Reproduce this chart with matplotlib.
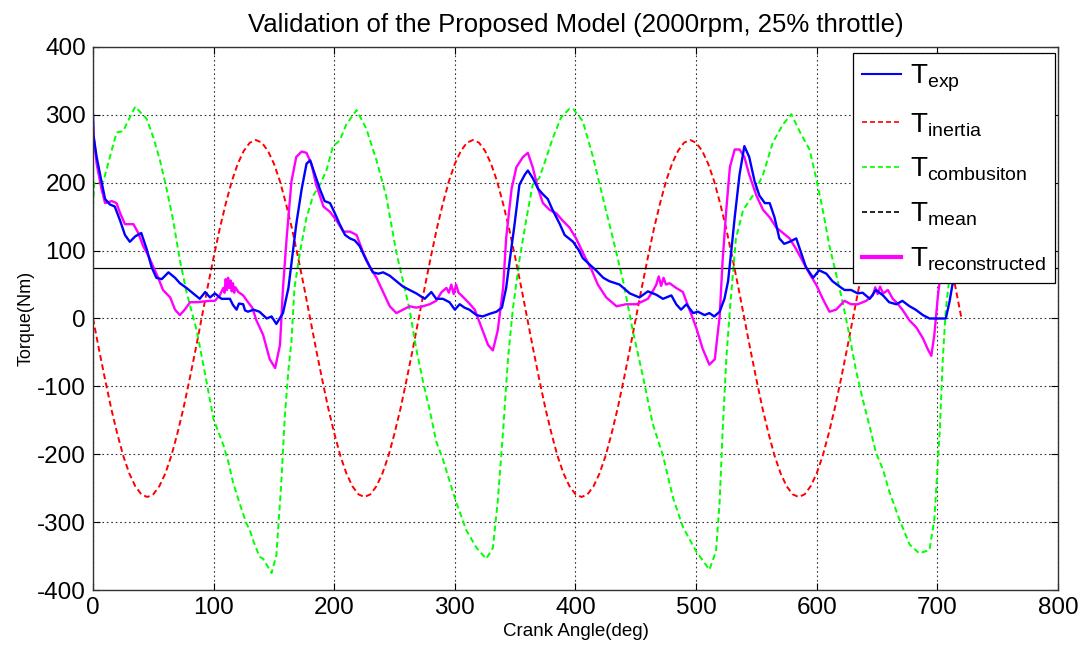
import numpy as np
import matplotlib
matplotlib.use("Agg")
import matplotlib.pyplot as plt
from matplotlib.lines import Line2D
from matplotlib.legend_handler import HandlerTuple

plt.rcParams['font.family'] = ['Liberation Sans', 'DejaVu Sans']
plt.rcParams['mathtext.fontset'] = 'custom'
plt.rcParams['mathtext.rm'] = 'Liberation Sans'
plt.rcParams['axes.unicode_minus'] = False

# inertia torque, read every 5 deg
inertia_deg = np.arange(0, 725, 5)
inertia_val = [
    0, -46, -90, -132, -169, -202, -228, -247, -259, -263, -259, -247, -228, -202, -169, -132, -90, -46,
    0, 46, 90, 132, 169, 202, 228, 247, 259, 263, 259, 247, 228, 202, 169, 132, 90, 46,
    0, -46, -90, -132, -169, -202, -228, -247, -259, -263, -259, -247, -228, -202, -169, -132, -90, -46,
    0, 46, 90, 132, 169, 202, 228, 247, 259, 263, 259, 247, 228, 202, 169, 132, 90, 46,
    0, -46, -90, -132, -169, -202, -228, -247, -259, -263, -259, -247, -228, -202, -169, -132, -90, -46,
    0, 46, 90, 132, 169, 202, 228, 247, 259, 263, 259, 247, 228, 202, 169, 132, 90, 46,
    0, -46, -90, -132, -169, -202, -228, -247, -259, -263, -259, -247, -228, -202, -169, -132, -90, -46,
    0, 46, 90, 132, 169, 202, 228, 247, 259, 263, 259, 247, 228, 202, 169, 132, 90, 46,
    0,
]

comb_deg = [0, 1, 3, 8.6, 14, 19.5, 25, 29, 35, 44.5, 50, 55.5, 61, 66.5, 72, 77.5, 86, 94, 100, 108,
            112, 116, 122, 127, 130, 133, 138, 141, 148, 152, 156, 159, 162, 164.5, 167, 171.5, 177,
            182.5, 188, 193.5, 199, 204.5, 210, 218.5, 226.5, 235, 243, 251.5, 257, 262.5, 268, 273.5,
            279, 284.5, 290, 295.5, 301, 309.5, 318, 326, 331.5, 335.5, 340, 344, 348, 353.5, 359,
            364.5, 370, 376, 381, 388, 395, 398, 406, 414.5, 423, 431, 439.5, 447.5, 456, 464, 472.5,
            481, 489, 500, 511, 516.5, 519.5, 522, 525, 528, 533, 539, 547, 555.5, 563.5, 572, 579,
            586, 594, 599.5, 605, 610.5, 616, 621.5, 627, 632.5, 638, 644, 649, 655, 660, 668.5, 677,
            685, 693.5, 697.5, 702, 704.5, 707, 710, 715, 720]
comb_val = [165, 200, 199, 202, 238, 274, 276, 291, 312, 294, 267, 233, 191, 144, 86, 39, -18, -92, -149,
            -186, -210, -241, -275, -301, -312, -328, -351, -354, -375, -349, -244, -144, -76, -34, 45,
            97, 149, 181, 197, 218, 254, 262, 286, 307, 280, 233, 181, 97, 55, 13, -45, -92, -134, -181,
            -207, -239, -270, -312, -338, -354, -338, -270, -165, -60, 13, 86, 144, 197, 207, 238, 265,
            296, 309, 309, 291, 238, 176, 118, 55, -18, -86, -155, -202, -265, -307, -343, -370, -343,
            -270, -165, -60, 13, 118, 160, 181, 212, 259, 286, 301, 275, 249, 207, 160, 107, 66, 24, -24,
            -76, -118, -160, -197, -223, -254, -296, -333, -346, -341, -296, -165, -60, 13, 60, 130, 165]

exp_deg = [0, 0.3, 3, 7, 10, 14, 18, 22.5, 26.5, 30.5, 35, 40, 44.5, 48.5, 52.5, 57, 62.5, 68, 72, 77.5,
           83, 88.5, 93, 97, 101, 106.5, 113.5, 116, 119, 121, 124.5, 126, 128.5, 133, 138, 144, 148,
           152, 157.5, 162, 164.5, 168.5, 173, 177, 180, 184, 188, 192, 196.5, 200.5, 204.5, 209, 213,
           217, 221, 226.5, 232, 236.5, 240.5, 246, 251.5, 257, 262.5, 268, 275, 280.5, 284.5, 290,
           295.5, 300, 304, 308, 312, 318, 323, 329, 334.5, 339, 342.5, 345.5, 349.5, 353.5, 358, 360.5,
           364.5, 369, 373, 377, 381, 387, 391, 398, 403, 406, 412, 417, 423, 428, 436.5, 445, 453, 460,
           467, 472.5, 479.5, 483.5, 487.5, 492, 497.5, 501.5, 507, 511, 515, 519.5, 523.5, 526.5, 529,
           532, 536, 540, 544, 548.5, 552.5, 557, 561, 565, 569, 573, 577.5, 583, 587, 591, 597, 602,
           608, 613, 619, 623, 628.5, 634, 638, 644, 649, 655, 660, 666, 671, 677, 682, 688, 693.5, 700,
           707, 710, 713, 717, 720]
exp_val = [300, 270, 238, 202, 176, 168, 165, 144, 123, 113, 121, 126, 102, 76, 60, 58, 68, 60, 52, 45,
           37, 29, 39, 31, 37, 29, 29, 20, 13, 22, 21, 12, 10, 13, 10, 0, 3, -8, 8, 45, 81, 139, 191, 228,
           233, 212, 191, 173, 170, 155, 139, 123, 118, 115, 107, 86, 68, 66, 68, 63, 55, 47, 42, 37, 29,
           39, 29, 29, 24, 13, 21, 16, 13, 5, 3, 7, 10, 16, 45, 86, 139, 197, 212, 218, 207, 191, 183,
           176, 160, 139, 123, 113, 100, 89, 79, 71, 60, 55, 50, 37, 31, 40, 35, 29, 34, 21, 13, 21, 8,
           10, 5, 8, 3, 10, 29, 55, 97, 149, 212, 254, 238, 202, 181, 170, 170, 149, 118, 110, 113, 118,
           97, 76, 60, 71, 66, 55, 47, 42, 42, 37, 38, 29, 42, 34, 24, 21, 26, 18, 13, 5, 0, 0, 0, 24,
           55, 200, 280]

rec_deg = [0, 0.5, 3, 7, 10, 15.5, 19.5, 22.5, 26.5, 33.5, 37.5, 41.5, 46, 50, 54, 58, 64, 68, 72, 76,
           80.5, 86, 91.5, 97, 101, 105, 108, 109, 110, 111, 112, 113, 114, 115, 116, 117, 118, 120.5,
           124.5, 128.5, 132, 135.5, 141, 146.5, 151, 155, 157.5, 160.5, 164.5, 168.5, 173, 177, 181,
           185, 191, 196.5, 202, 207.5, 213, 218.5, 224, 229.5, 235, 240.5, 246, 251.5, 257, 262.5, 268,
           273.5, 279, 284.5, 289, 293, 295, 297, 299, 301, 303, 305.5, 311, 316.5, 322, 327.5, 331.5,
           335.5, 340, 342.5, 347, 351, 356.5, 360.5, 364.5, 369, 373, 378.5, 384, 389.5, 395, 400.5,
           407.5, 413, 418.5, 425.5, 434, 442, 450.5, 460, 464, 467, 469, 471, 473, 475, 478, 483.5, 489,
           494.5, 500, 505.5, 511, 515.5, 519.5, 522, 525, 528, 532, 536, 540, 544, 550, 555.5, 561,
           566.5, 572, 577.5, 583, 588.5, 594, 599.5, 605, 610.5, 616, 623, 628.5, 634, 641, 646.5,
           648.5, 650.5, 652.5, 655, 659, 663, 666, 671, 677, 682.5, 688, 692, 695, 697.5, 700.5, 703,
           708, 713, 720]
rec_val = [290, 270, 228, 191, 170, 173, 170, 155, 139, 139, 126, 107, 92, 76, 60, 42, 31, 13, 5, 13,
           24, 24, 25, 26, 26, 34, 45, 38, 58, 42, 60, 45, 56, 40, 52, 38, 46, 39, 34, 24, 16, -3, -24,
           -60, -73, -39, 45, 118, 202, 238, 246, 244, 228, 197, 165, 157, 144, 128, 128, 123, 97, 76,
           60, 39, 18, 8, 13, 18, 16, 18, 21, 26, 39, 45, 38, 50, 36, 50, 38, 34, 24, 13, -13, -39, -47,
           -18, 45, 118, 191, 223, 238, 244, 223, 191, 170, 160, 155, 144, 134, 118, 92, 73, 50, 31, 18,
           21, 21, 29, 40, 50, 62, 48, 60, 50, 52, 45, 39, 13, -13, -45, -68, -60, 3, 86, 160, 223, 249,
           249, 238, 212, 181, 160, 149, 134, 126, 118, 102, 84, 66, 50, 29, 10, 13, 26, 21, 21, 26, 34,
           46, 36, 47, 37, 42, 29, 24, 13, -3, -13, -29, -45, -55, -24, 34, 71, 180, 260, 280]

mean_val = 75

xticks = np.arange(0, 801, 100)
yticks = np.arange(-400, 401, 100)

fig = plt.figure(figsize=(10.88, 6.49), dpi=100)
ax = fig.add_axes([0.0855, 0.0909, 0.8869, 0.8367])

dash = (0, (3.0, 1.8))
ax.plot(inertia_deg, inertia_val, color='#ff0000', lw=1.4, ls=dash)
ax.plot(comb_deg, comb_val, color='#00ff00', lw=1.4, ls=dash)
ax.axhline(mean_val, color='black', lw=0.9)
ax.plot(rec_deg, rec_val, color='#ff00ff', lw=1.7)
ax.plot(exp_deg, exp_val, color='#0000ff', lw=1.7)

ax.set_xlim(0, 800)
ax.set_ylim(-400, 400)
ax.set_xticks(xticks)
ax.set_yticks(yticks)
ax.tick_params(labelsize=17.5, direction='in', top=True, right=True, length=5, width=0.8, pad=5)
ax.grid(True, color='#333333', ls=(0, (1.5, 2.5)), lw=0.8)
for s in ax.spines.values():
    s.set_linewidth(1.0)
    s.set_color('#333333')

ax.set_title('Validation of the Proposed Model (2000rpm, 25% throttle)', fontsize=18.5, pad=11)
ax.set_xlabel('Crank Angle(deg)', fontsize=13.5, labelpad=3)
ax.set_ylabel('Torque(Nm)', fontsize=13, labelpad=2)

h_exp = Line2D([], [], color='#0000ff', lw=1.5)
h_in = Line2D([], [], color='#ff0000', lw=1.2, ls=dash)
h_co = Line2D([], [], color='#00ff00', lw=1.2, ls=dash)
h_me = Line2D([], [], color='black', lw=1.2, ls=dash)
h_re = Line2D([], [], color='#ff00ff', lw=3)
labels = [r'$\mathregular{T_{exp}}$', r'$\mathregular{T_{inertia}}$',
          r'$\mathregular{T_{combusiton}}$', r'$\mathregular{T_{mean}}$',
          r'$\mathregular{T_{reconstructed}}$']
leg = ax.legend([h_exp, h_in, h_co, h_me, (h_me, h_re)], labels,
                handler_map={tuple: HandlerTuple(ndivide=1)},
                loc='upper right', bbox_to_anchor=(0.997, 0.989), borderaxespad=0,
                fontsize=20, handlelength=1.4, handletextpad=0.3, labelspacing=0.62,
                borderpad=0.35, fancybox=False, framealpha=1, edgecolor='black')
leg.get_frame().set_linewidth(0.9)

fig.savefig('out.png', dpi=100)
